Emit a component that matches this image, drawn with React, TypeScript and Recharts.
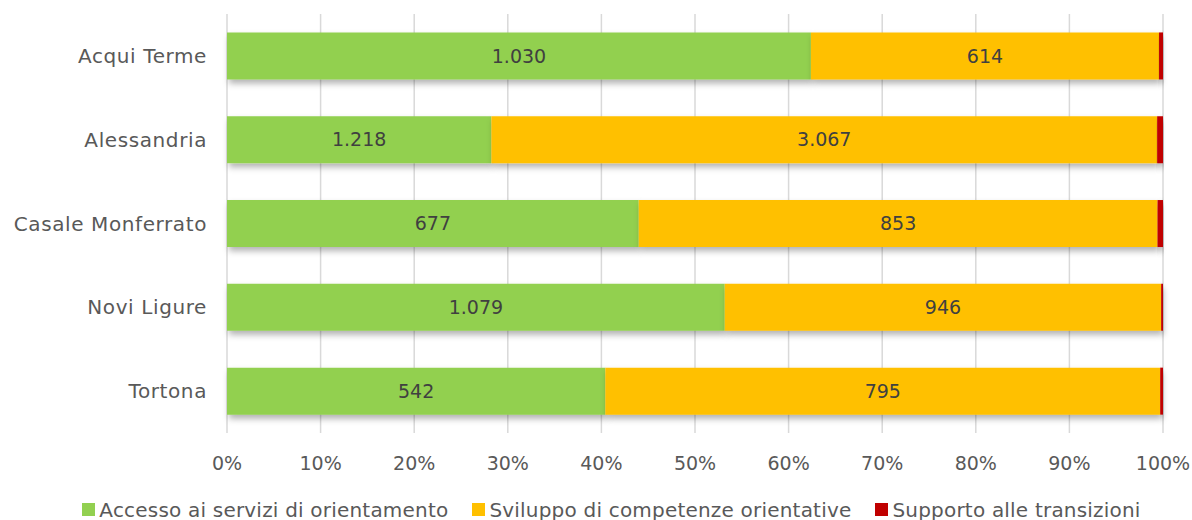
import { Bar, BarChart, CartesianGrid, LabelList, Legend, XAxis, YAxis } from "recharts";

const centri = ["Acqui Terme", "Alessandria", "Casale Monferrato", "Novi Ligure", "Tortona"];
const accesso = [1030, 1218, 677, 1079, 542];
const sviluppo = [614, 3067, 853, 946, 795];
const supporto = [7, 27, 9, 4, 4];
const percentTicks = [0, 0.1, 0.2, 0.3, 0.4, 0.5, 0.6, 0.7, 0.8, 0.9, 1];

const series = [
  { key: "accesso", name: "Accesso ai servizi di orientamento", color: "#92D050", label: true },
  { key: "sviluppo", name: "Sviluppo di competenze orientative", color: "#FFC000", label: true },
  { key: "supporto", name: "Supporto alle transizioni", color: "#C00000", label: false },
];

const data = centri.map((name, i) => ({
  name,
  accesso: accesso[i],
  sviluppo: sviluppo[i],
  supporto: supporto[i],
}));

const FONT = "'DejaVu Sans', 'Open Sans', sans-serif";

function formatNum(v: unknown) {
  return new Intl.NumberFormat("it-IT", { useGrouping: "always" } as Intl.NumberFormatOptions).format(
    Number(v)
  );
}

function BottomLegend() {
  return (
    <div
      style={{
        display: "flex",
        justifyContent: "center",
        gap: 24,
        height: 37,
        paddingTop: 16,
        paddingLeft: 60,
        boxSizing: "border-box",
        alignItems: "center",
        fontFamily: FONT,
        fontSize: 20,
        letterSpacing: 0.2,
        color: "#595959",
        whiteSpace: "nowrap",
      }}
    >
      {series.map((s) => (
        <span key={s.key} style={{ display: "flex", alignItems: "center", gap: 4 }}>
          <span style={{ width: 13, height: 13, background: s.color, display: "inline-block" }} />
          {s.name}
        </span>
      ))}
    </div>
  );
}

export default function App() {
  return (
    <div style={{ position: "absolute", left: 0, top: 0, background: "#fff" }}>
      <BarChart
        width={1192}
        height={520}
        data={data}
        layout="vertical"
        stackOffset="expand"
        barCategoryGap="22%"
        margin={{ top: 14, right: 29, left: 0, bottom: 0 }}
      >
        <defs>
          <filter id="barShadow" x="-5%" y="-20%" width="110%" height="160%">
            <feDropShadow dx="2" dy="4" stdDeviation="3" floodColor="#000" floodOpacity="0.3" />
          </filter>
        </defs>
        <CartesianGrid horizontal={false} stroke="#D9D9D9" strokeWidth={1.5} />
        <XAxis
          type="number"
          domain={[0, 1]}
          ticks={percentTicks}
          tickFormatter={(v: number) => `${Math.round(v * 100)}%`}
          axisLine={false}
          tickLine={false}
          tick={{ fill: "#595959", fontSize: 19, fontFamily: FONT }}
          tickMargin={18}
          height={50}
          interval={0}
        />
        <YAxis
          type="category"
          dataKey="name"
          width={227}
          axisLine={false}
          tickLine={false}
          tick={{ fill: "#595959", fontSize: 20, fontFamily: FONT, letterSpacing: 0.6 }}
          tickMargin={14}
        />
        <Legend verticalAlign="bottom" content={<BottomLegend />} />
        {series.map((s) => (
          <Bar
            key={s.key}
            dataKey={s.key}
            name={s.name}
            stackId="a"
            fill={s.color}
            filter="url(#barShadow)"
            isAnimationActive={false}
          >
            {s.label && (
              <LabelList
                dataKey={s.key}
                position="center"
                formatter={formatNum}
                style={{ fill: "#404040", fontSize: 19, fontFamily: FONT }}
              />
            )}
          </Bar>
        ))}
      </BarChart>
    </div>
  );
}
